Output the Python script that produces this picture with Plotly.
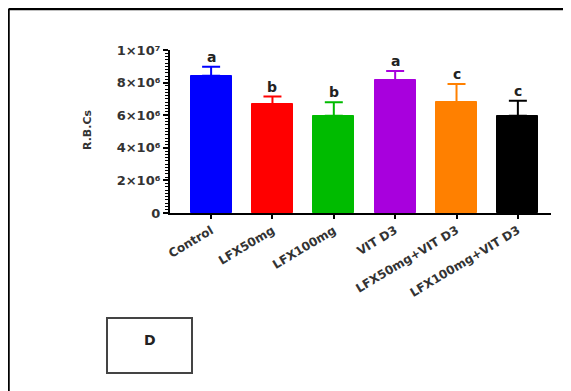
import plotly.graph_objects as go

categories = ["Control", "LFX50mg", "LFX100mg", "VIT D3", "LFX50mg+VIT D3", "LFX100mg+VIT D3"]
means = [8.42e6, 6.67e6, 5.97e6, 8.16e6, 6.79e6, 5.97e6]
errors = [0.56e6, 0.47e6, 0.82e6, 0.55e6, 1.12e6, 0.92e6]
letters = ["a", "b", "b", "a", "c", "c"]
colors = ["#0000FF", "#FF0000", "#00BB00", "#A800DD", "#FF8000", "#000000"]
ytick_vals = [0, 2e6, 4e6, 6e6, 8e6, 1e7]
ytick_text = ["0", "2×10⁶", "4×10⁶", "6×10⁶", "8×10⁶", "1×10⁷"]

FONT = "DejaVu Sans"
OFF = 8  # page body margin
W, H = 571 - OFF, 391 - OFF
L = 170 - OFF
T = 50 - OFF
R = W - (551 - OFF)
B = H - (213 - OFF)
pw = W - L - R
ph = H - T - B

def px(x):
    return (x - OFF - L) / pw

def py(y):
    return (H - B - (y - OFF)) / ph

fig = go.Figure()
for i, c in enumerate(categories):
    fig.add_trace(go.Bar(
        x=[i], y=[means[i]], width=0.67,
        marker=dict(color=colors[i], line=dict(color=colors[i], width=1)),
        error_y=dict(type="data", symmetric=False, array=[errors[i]], arrayminus=[0],
                     color=colors[i], thickness=2, width=9),
        showlegend=False,
    ))
    fig.add_annotation(x=i, y=means[i] + errors[i], text="<b>%s</b>" % letters[i],
                       showarrow=False, yanchor="bottom", xanchor="center", yshift=0,
                       font=dict(family=FONT, size=14, color="#222"))

fig.update_layout(
    width=W, height=H,
    margin=dict(l=L, r=R, t=T, b=B),
    paper_bgcolor="white", plot_bgcolor="white",
    bargap=0,
    font=dict(family=FONT, color="#333"),
)
fig.update_xaxes(
    range=[-0.67, 5.54], tickmode="array", tickvals=list(range(len(categories))),
    ticktext=["<b>%s</b>" % c for c in categories], tickangle=-31,
    tickfont=dict(family=FONT, size=12, color="#333"),
    showline=True, linecolor="black", linewidth=2, ticks="outside", ticklen=4,
    tickwidth=1.5, tickcolor="black", showgrid=False, zeroline=False,
)
fig.update_yaxes(
    range=[0, 1e7], tickmode="array", tickvals=ytick_vals,
    ticktext=["<b>%s</b>" % t for t in ytick_text],
    tickfont=dict(family=FONT, size=13, color="#333"),
    showline=True, linecolor="black", linewidth=2, ticks="outside", ticklen=5,
    tickwidth=1.5, tickcolor="black", showgrid=False, zeroline=False,
    minor=dict(dtick=2e5, ticks="outside", ticklen=3, tickcolor="black", tickwidth=1),
)
fig.add_annotation(xref="paper", yref="paper", x=px(87), y=py(130), text="<b>R.B.Cs</b>",
                   textangle=-90, showarrow=False, xanchor="center", yanchor="middle",
                   font=dict(family=FONT, size=11, color="#333333"))
# outer frame (top and left)
fig.add_shape(type="line", xref="paper", yref="paper", x0=px(8.5), x1=px(575),
              y0=py(9), y1=py(9), line=dict(color="black", width=2.5))
fig.add_shape(type="line", xref="paper", yref="paper", x0=px(8.5), x1=px(8.5),
              y0=py(9), y1=py(400), line=dict(color="black", width=2.5))
# panel label box
fig.add_shape(type="rect", xref="paper", yref="paper", x0=px(107), x1=px(192),
              y0=py(318), y1=py(373), line=dict(color="#444", width=2))
fig.add_annotation(xref="paper", yref="paper", x=px(149.5), y=py(340), text="<b>D</b>",
                   showarrow=False, xanchor="center", yanchor="middle",
                   font=dict(family=FONT, size=14, color="#222"))

fig.write_html("out.html")
